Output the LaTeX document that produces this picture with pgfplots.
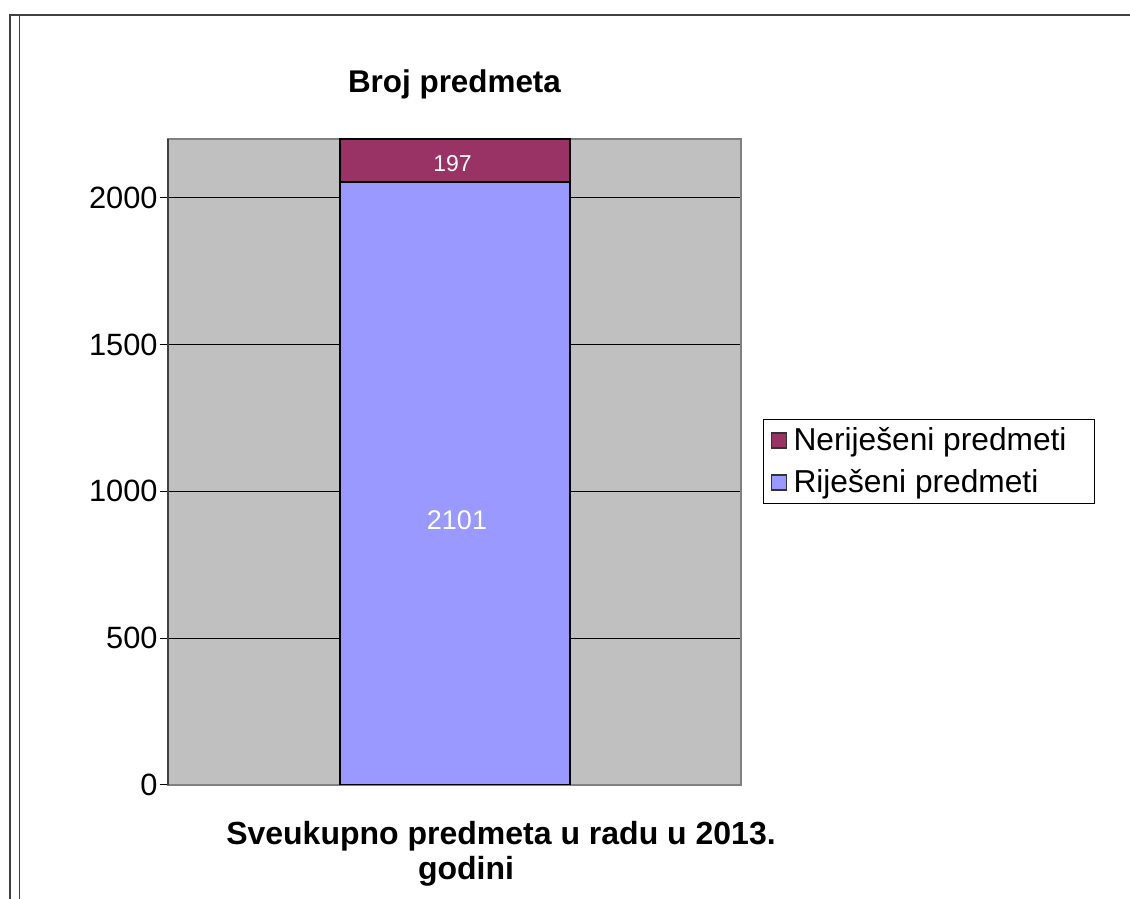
\documentclass[border=0pt]{standalone}
\usepackage{fontspec}
\setmainfont{Liberation Sans}
\usepackage{pgfplots}
\pgfplotsset{compat=1.18}
\definecolor{plotbg}{HTML}{C0C0C0}
\definecolor{rij}{HTML}{9999FF}
\definecolor{nerij}{HTML}{993366}
\definecolor{framec}{HTML}{404040}
\definecolor{axgray}{HTML}{808080}

\begin{document}
\begin{tikzpicture}
\useasboundingbox (0,0) rectangle (565pt,449.5pt);
\draw[framec, line width=1pt] (5pt,442pt) -- (565pt,442pt);
\draw[framec, line width=0.65pt] (5pt,442.5pt) -- (5pt,0pt);
\draw[framec, line width=0.65pt] (9.65pt,442pt) -- (9.65pt,0pt);
\begin{axis}[
  name=ax,
  at={(84pt,57pt)}, anchor=south west,
  scale only axis, width=286.5pt, height=323pt,
  ybar stacked, bar width=115pt,
  xmin=0, xmax=1, ymin=0, ymax=2200,
  xtick=\empty,
  ytick={0,500,1000,1500,2000},
  ytick pos=left,
  ymajorgrids, grid style={black, line width=0.5pt},
  axis background/.style={fill=plotbg},
  axis line style={draw=axgray, line width=1pt},
  tick align=outside, major tick length=4pt,
  ytick style={black, line width=0.5pt},
  yticklabel style={font=\fontsize{15.4}{18}\selectfont, inner sep=0pt, xshift=-1pt},
  /pgf/number format/assume math mode=true,
  /pgf/number format/1000 sep={},
  title={Broj predmeta},
  every axis title/.style={at={(0.5,1)}, anchor=base, yshift=23pt, font=\fontsize{15.7}{19}\selectfont\bfseries},
  xlabel={Sveukupno predmeta u radu u 2013.\\godini\hspace*{35pt}},
  every axis x label/.style={at={(0.5,0)}, anchor=north, xshift=23.25pt, yshift=-18pt, align=center, inner sep=0pt, font=\fontsize{16}{17.5}\selectfont\bfseries},
  legend style={at={(1.0384,0.5666)}, anchor=north west, draw=black, line width=0.5pt, fill=white,
    font=\fontsize{15.85}{19}\selectfont, inner xsep=3pt, inner ysep=3pt, row sep=6pt,
    nodes={inner sep=1pt}},
  reverse legend, legend cell align=left,
]
\addplot[fill=rij, draw=black, line width=1pt,
  legend image code/.code={\path[draw=none,fill=none] (0pt,0pt) -- (11pt,0pt);\draw[fill=rij, draw=black!80, line width=0.6pt] (1pt,-3.75pt) rectangle (8.5pt,3.75pt);}]
  coordinates {(0.5,2055)};
\addplot[fill=nerij, draw=black, line width=1pt,
  legend image code/.code={\path[draw=none,fill=none] (0pt,0pt) -- (11pt,0pt);\draw[fill=nerij, draw=black!80, line width=0.6pt] (1pt,-3.75pt) rectangle (8.5pt,3.75pt);}]
  coordinates {(0.5,197)};
\legend{Riješeni predmeti, Neriješeni predmeti\hspace*{10pt}}
\end{axis}
% bar top edge (bar clipped at ymax) and darker value axis line
\draw[black, line width=1pt] (170pt,380pt) -- (285pt,380pt);
\draw[framec, line width=1pt] (84pt,57pt) -- (84pt,380pt);
% value labels on the bar segments
\node[text=white, font=\fontsize{13.5}{16}\selectfont, anchor=center] at (228.5pt,189.5pt) {2101};
\node[text=white, font=\fontsize{11.5}{14}\selectfont, anchor=center] at (226.25pt,367.5pt) {197};
\end{tikzpicture}
\end{document}
